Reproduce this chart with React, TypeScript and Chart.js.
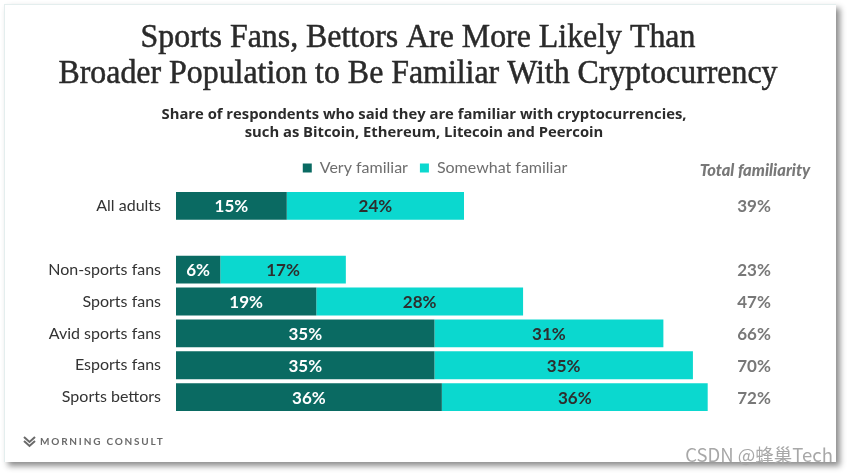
import React, { useEffect, useRef } from 'react';
import { Chart, registerables } from 'chart.js';

Chart.register(...registerables);

const categories = ['All adults', '', 'Non-sports fans', 'Sports fans', 'Avid sports fans', 'Esports fans', 'Sports bettors'];
const veryFamiliar = [15, null, 6, 19, 35, 35, 36];
const somewhatFamiliar = [24, null, 17, 28, 31, 35, 36];
const totalFamiliarity = [39, null, 23, 47, 66, 70, 72];
const seriesNames = ['Very familiar', 'Somewhat familiar'];
const titleLines = [
  'Sports Fans, Bettors Are More Likely Than',
  'Broader Population to Be Familiar With Cryptocurrency',
];
const subtitleLines = [
  'Share of respondents who said they are familiar with cryptocurrencies,',
  'such as Bitcoin, Ethereum, Litecoin and Peercoin',
];
const totalHeader = 'Total familiarity';
const sourceText = 'MORNING CONSULT';
const watermark = 'CSDN @蜂巢Tech';

const DARK = '#0a6a62';
const CYAN = '#0bd8cf';

const textPlugin = {
  id: 'textPlugin',
  afterDatasetsDraw(chart: any) {
    const ctx = chart.ctx as CanvasRenderingContext2D;
    ctx.save();
    ctx.textAlign = 'center';
    ctx.textBaseline = 'middle';
    ctx.font = 'bold 17px Lato';
    chart.data.datasets.forEach((ds: any, di: number) => {
      const meta = chart.getDatasetMeta(di);
      meta.data.forEach((el: any, i: number) => {
        const v = ds.data[i];
        if (v == null) return;
        const p = el.getProps(['x', 'base', 'y'], true);
        ctx.fillStyle = di === 0 ? '#ffffff' : '#2e2e2e';
        ctx.fillText(v + '%', (p.x + p.base) / 2, p.y + 1);
      });
    });
    // totals column
    const meta0 = chart.getDatasetMeta(0);
    ctx.fillStyle = '#787878';
    totalFamiliarity.forEach((t, i) => {
      if (t == null) return;
      const el = meta0.data[i];
      ctx.fillText(t + '%', 754, el.y + 1);
    });
    ctx.font = 'italic 900 16.5px Lato';
    ctx.fillText(totalHeader, 755, 171);
    ctx.restore();
  },
  afterDraw(chart: any) {
    const ctx = chart.ctx as CanvasRenderingContext2D;
    ctx.save();
    // title
    ctx.fillStyle = '#2a2a2a';
    ctx.strokeStyle = '#2a2a2a';
    ctx.lineWidth = 0.5;
    ctx.textAlign = 'center';
    ctx.textBaseline = 'alphabetic';
    ctx.font = '33px "Liberation Serif"';
    const w2 = ctx.measureText(titleLines[1]).width;
    const sx = 719 / w2;
    const titleY = [47, 83];
    titleLines.forEach((t, i) => {
      ctx.save();
      ctx.translate(418, titleY[i]);
      ctx.scale(sx, 1);
      ctx.fillText(t, 0, 0);
      ctx.strokeText(t, 0, 0);
      ctx.restore();
    });
    // subtitle
    ctx.fillStyle = '#2b2b2b';
    ctx.font = 'bold 14.8px "Open Sans"';
    ctx.textBaseline = 'middle';
    ctx.fillText(subtitleLines[0], 424, 115);
    ctx.fillText(subtitleLines[1], 424, 133);
    // source logo
    ctx.strokeStyle = '#6a6a6a';
    ctx.lineWidth = 2;
    ctx.beginPath();
    ctx.moveTo(24, 437);
    ctx.lineTo(29.5, 442);
    ctx.lineTo(35, 437);
    ctx.moveTo(24, 441);
    ctx.lineTo(29.5, 446);
    ctx.lineTo(35, 441);
    ctx.stroke();
    ctx.fillStyle = '#6a6a6a';
    ctx.font = 'bold 10px Lato';
    ctx.textAlign = 'left';
    (ctx as any).letterSpacing = '1.8px';
    ctx.fillText(sourceText, 40, 442);
    (ctx as any).letterSpacing = '0px';
    // watermark
    ctx.fillStyle = '#a8a8a8';
    ctx.font = '18.5px "Noto Sans CJK SC"';
    ctx.textAlign = 'right';
    ctx.fillText(watermark, 833, 455);
    ctx.restore();
  },
};

export default function App() {
  const ref = useRef<HTMLCanvasElement | null>(null);
  useEffect(() => {
    if (!ref.current) return;
    const chart = new Chart(ref.current, {
      type: 'bar',
      data: {
        labels: categories,
        datasets: [
          { label: seriesNames[0], data: veryFamiliar, backgroundColor: DARK, borderWidth: 0 },
          { label: seriesNames[1], data: somewhatFamiliar, backgroundColor: CYAN, borderWidth: 0 },
        ],
      },
      options: {
        indexAxis: 'y',
        responsive: false,
        animation: false,
        devicePixelRatio: 1,
        layout: { padding: { top: 148, left: 22, right: 0, bottom: 61 } },
        datasets: { bar: { barPercentage: 0.875, categoryPercentage: 1 } },
        scales: {
          x: {
            stacked: true,
            position: 'top',
            min: 0,
            max: 91,
            grid: { display: false, drawTicks: false },
            border: { display: false },
            ticks: { display: false },
            afterFit: (s: any) => { s.height = 4; },
          },
          y: {
            stacked: true,
            grid: { display: false, drawTicks: false },
            border: { display: false },
            ticks: { color: '#333333', font: { family: 'Lato', size: 16 }, padding: 15 },
            afterFit: (s: any) => { s.width = 154; },
          },
        },
        plugins: {
          legend: {
            display: true,
            position: 'top',
            align: 'center',
            labels: {
              color: '#6e6e6e',
              font: { family: 'Lato', size: 16 },
              boxWidth: 9,
              boxHeight: 9,
              padding: 12,
            },
          },
          tooltip: { enabled: false },
        },
      },
      plugins: [textPlugin],
    });
    return () => chart.destroy();
  }, []);

  return (
    <div style={{ position: 'fixed', left: 0, top: 0, width: 848, height: 474, background: '#ffffff' }}>
      <div
        style={{
          position: 'absolute',
          left: 4,
          top: 4,
          width: 831,
          height: 457,
          background: '#ffffff',
          borderLeft: '1px solid #e4eeee',
          borderTop: '1px solid #e4eeee',
          boxShadow: '4px 4px 6px rgba(0,0,0,0.45)',
        }}
      />
      <canvas ref={ref} width={848} height={474} style={{ position: 'absolute', left: 0, top: 0, display: 'block' }} />
    </div>
  );
}
